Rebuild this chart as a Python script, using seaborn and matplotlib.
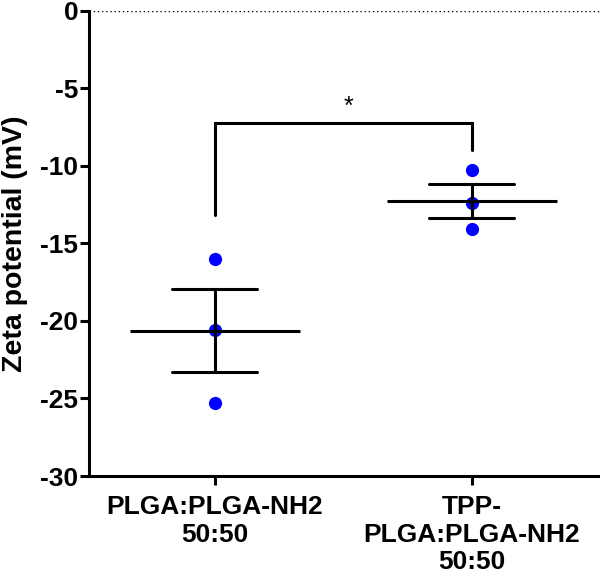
import matplotlib
matplotlib.use("Agg")
import matplotlib.pyplot as plt
import seaborn as sns
import pandas as pd

# ---- data ----
groups = ["PLGA:PLGA-NH2\n50:50", "TPP-\nPLGA:PLGA-NH2\n50:50"]
group1_values = [-16.0, -20.6, -25.3]
group2_values = [-10.3, -12.4, -14.1]
y_ticks = [0, -5, -10, -15, -20, -25, -30]
y_label = "Zeta potential (mV)"
sig_label = "*"
sig_bracket_top = -7.25
sig_leg_bottoms = [-13.2, -9.0]

df = pd.DataFrame({
    "group": [groups[0]] * len(group1_values) + [groups[1]] * len(group2_values),
    "value": group1_values + group2_values,
})

sns.set_theme(style="ticks")
plt.rcParams["font.family"] = ["Liberation Sans", "DejaVu Sans"]
plt.rcParams["font.weight"] = "bold"

fig = plt.figure(figsize=(6, 5.76), dpi=100)
ax = fig.add_axes([0.148, 0.1736, 0.852, 0.8078])

lw = 2.2
sns.stripplot(data=df, x="group", y="value", order=groups, color="#0000FF",
              size=9.5, jitter=False, ax=ax, zorder=2, linewidth=0)
sns.pointplot(data=df, x="group", y="value", order=groups, errorbar="se",
              capsize=0.33, color="black", markers="_", markersize=122,
              markeredgewidth=lw, linestyle="none", err_kws={"linewidth": lw},
              ax=ax, zorder=3)

ax.axhline(0, color="black", linewidth=1.0, linestyle=(0, (1, 2)), zorder=1)

# significance bracket
ax.plot([0, 0, 1, 1], [sig_leg_bottoms[0], sig_bracket_top, sig_bracket_top, sig_leg_bottoms[1]],
        color="black", linewidth=lw, solid_joinstyle="miter", zorder=3)
ax.text(0.52, sig_bracket_top + 0.3, sig_label, ha="center", va="bottom",
        fontsize=18, fontweight="normal", color="black")

ax.set_xlim(-0.49, 1.5)
ax.set_ylim(-30, 0)
ax.set_yticks(y_ticks)
ax.set_yticklabels([str(t) for t in y_ticks])
ax.set_xlabel("")
ax.set_ylabel(y_label, fontsize=20.5, fontweight="bold", labelpad=9, color="black")

for s in ["top", "right"]:
    ax.spines[s].set_visible(False)
for s in ["left", "bottom"]:
    ax.spines[s].set_linewidth(lw)
    ax.spines[s].set_color("black")
ax.tick_params(axis="both", width=lw, length=6.5, color="black", labelcolor="black")
ax.tick_params(axis="y", labelsize=19, pad=1)
ax.tick_params(axis="x", labelsize=19, pad=7)
for lab in ax.get_xticklabels() + ax.get_yticklabels():
    lab.set_fontweight("bold")
for lab in ax.get_xticklabels():
    lab.set_linespacing(1.2)

fig.savefig("out.png", dpi=100)
